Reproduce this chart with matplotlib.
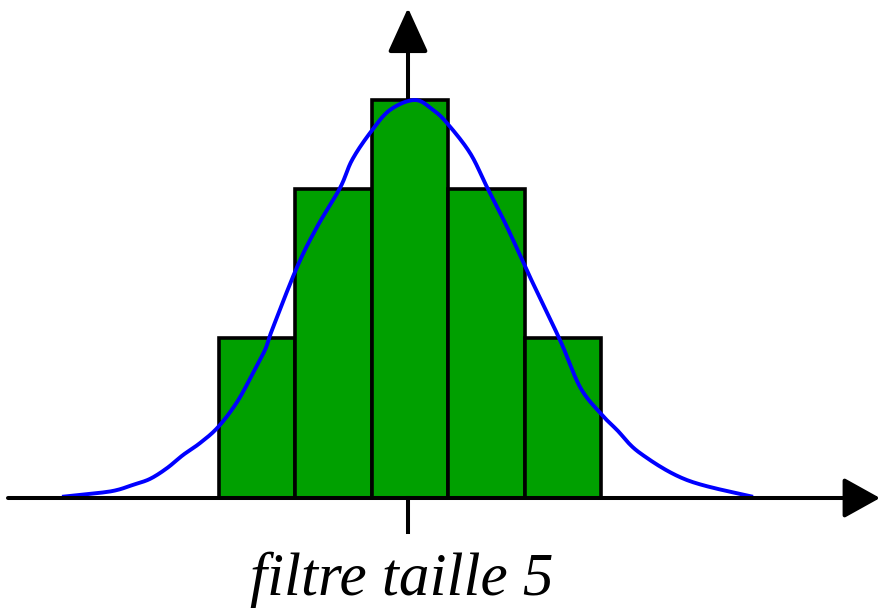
import matplotlib
matplotlib.use("Agg")
import matplotlib.pyplot as plt
import numpy as np

# Data (bar positions and heights, normalised to centre bar = 1)
positions = [-2, -1, 0, 1, 2]
heights = [0.402, 0.776, 1.0, 0.776, 0.402]

# Hand-drawn bell curve (x in bar units, y normalised)
curve_x = [-4.555, -4.058, -3.835, -3.626, -3.403, -3.181, -2.971, -2.749, -2.513,
           -2.264, -2.055, -1.898, -1.806,
           -1.479, -1.217, -0.916, -0.759, -0.524, -0.262, 0.065, 0.301, 0.484,
           0.785, 1.008, 1.270, 1.571, 1.963, 2.225, 2.487, 2.709, 3.010, 3.626, 4.490]
curve_y = [0.003, 0.013, 0.020, 0.033, 0.048, 0.075, 0.108, 0.138, 0.178,
           0.241, 0.314, 0.372, 0.422,
           0.580, 0.681, 0.779, 0.849, 0.917, 0.975, 1.0, 0.975, 0.942,
           0.867, 0.781, 0.681, 0.555, 0.397, 0.279, 0.214, 0.171, 0.113, 0.045, 0.003]

label = "filtre taille 5"

fig = plt.figure(figsize=(8.8, 6.09), dpi=100)
ax = fig.add_axes([0, 0, 1, 1])
ax.set_xlim(-410 / 76.4, (880 - 410) / 76.4)
ax.set_ylim(-(609 - 498) / 398, 498 / 398)
ax.axis("off")

ax.bar(positions, heights, width=1.0, color="#00A000", edgecolor="black",
       linewidth=2.6, zorder=2)

def catmull(xp, yp, n=20):
    P = np.column_stack([xp, yp])
    P = np.vstack([P[0], P, P[-1]])
    out = []
    for i in range(1, len(P) - 2):
        p0, p1, p2, p3 = P[i - 1], P[i], P[i + 1], P[i + 2]
        for t in np.linspace(0, 1, n, endpoint=False):
            t2, t3 = t * t, t * t * t
            out.append(0.5 * ((2 * p1) + (-p0 + p2) * t + (2 * p0 - 5 * p1 + 4 * p2 - p3) * t2
                              + (-p0 + 3 * p1 - 3 * p2 + p3) * t3))
    out.append(P[-2])
    return np.array(out)

sm = catmull(np.array(curve_x), np.array(curve_y))
ax.plot(sm[:, 0], sm[:, 1], color="#0000FF", lw=2.8, zorder=3, solid_capstyle="butt")

x_to = lambda px: (px - 410) / 76.4
y_to = lambda py: (498 - py) / 398

# horizontal axis arrow
ax.annotate("", xy=(x_to(880), 0), xytext=(x_to(8), 0),
            arrowprops=dict(arrowstyle="-|>,head_length=0.9,head_width=0.5",
                            mutation_scale=25, lw=2.9, color="black",
                            shrinkA=0, shrinkB=0), zorder=4)
# vertical axis arrow
ax.annotate("", xy=(x_to(408), y_to(8)), xytext=(x_to(408), 0),
            arrowprops=dict(arrowstyle="-|>,head_length=1.1,head_width=0.5",
                            mutation_scale=25, lw=2.9, color="black",
                            shrinkA=0, shrinkB=0), zorder=1)
# tick below
ax.plot([x_to(408), x_to(408)], [0, y_to(532)], color="black", lw=2.9, zorder=4)

ax.text(x_to(402), y_to(595), label, fontsize=44, family="Liberation Serif",
        style="italic", ha="center", va="baseline")

fig.savefig("out.png", dpi=100)
